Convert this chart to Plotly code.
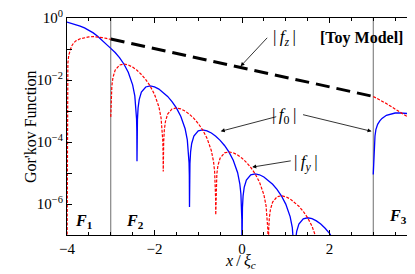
import plotly.graph_objects as go

# ---- data (values read in decades, log10 of |f|) ----
blue_f1_x = [-4.0, -3.9, -3.8, -3.7, -3.6, -3.5, -3.4, -3.3, -3.2, -3.1, -3.0]
blue_f1_log = [-0.13, -0.17, -0.21, -0.26, -0.32, -0.39, -0.48, -0.59, -0.71, -0.84, -0.98]

blue_f2_x = [-3.0, -2.9, -2.8, -2.7, -2.6, -2.5, -2.45, -2.425, -2.41, -2.404, -2.4, -2.396, -2.39, -2.375, -2.35,
             -2.3, -2.2, -2.1, -2.0, -1.9, -1.8, -1.7, -1.6, -1.5, -1.4, -1.3, -1.25, -1.225, -1.21, -1.204, -1.2,
             -1.196, -1.19, -1.175, -1.15, -1.1, -1.0, -0.9, -0.8, -0.7, -0.6, -0.5, -0.4, -0.3, -0.2, -0.1, -0.05,
             -0.025, -0.01, -0.004, 0.0, 0.004, 0.01, 0.025, 0.05, 0.1, 0.2, 0.3, 0.4, 0.5, 0.6, 0.7, 0.8, 0.9, 1.0,
             1.1, 1.15, 1.175, 1.19, 1.2, 1.21, 1.225, 1.25, 1.3, 1.4, 1.5, 1.6, 1.7, 1.8, 1.9, 2.0, 2.1, 2.2]
blue_f2_log = [-0.979, -1.112, -1.278, -1.484, -1.752, -2.157, -2.513, -2.842, -3.258, -3.663, -4.62, -3.672, -3.281,
               -2.901, -2.631, -2.393, -2.225, -2.193, -2.223, -2.293, -2.396, -2.529, -2.695, -2.901, -3.170, -3.574,
               -3.930, -4.259, -4.675, -5.080, -6.1, -5.090, -4.699, -4.318, -4.048, -3.810, -3.642, -3.610, -3.640,
               -3.710, -3.813, -3.947, -4.113, -4.319, -4.587, -4.991, -5.347, -5.677, -6.092, -6.497, -7.5, -6.507,
               -6.116, -5.736, -5.465, -5.227, -5.059, -5.027, -5.057, -5.128, -5.231, -5.364, -5.530, -5.736, -6.004,
               -6.408, -6.764, -7.094, -7.509, -9.0, -7.533, -7.153, -6.882, -6.644, -6.476, -6.444, -6.475, -6.545,
               -6.648, -6.781, -6.947, -7.153, -7.421]

blue_f3_x = [3.0, 3.005, 3.01, 3.02, 3.03, 3.04, 3.06, 3.08, 3.1, 3.15, 3.2, 3.3, 3.4, 3.5, 3.6, 3.7, 3.8, 3.9, 4.0]
blue_f3_log = [-5.05, -4.8, -4.6, -4.35, -4.05, -3.8, -3.6, -3.5, -3.43, -3.32, -3.24, -3.14, -3.09, -3.065, -3.06,
               -3.065, -3.08, -3.095, -3.11]

red_f1_x = [-4.0, -3.995, -3.98, -3.96, -3.93, -3.9, -3.85, -3.8, -3.7, -3.6, -3.5, -3.4, -3.3, -3.2, -3.1, -3.0]
red_f1_log = [-8.0, -1.9, -1.45, -1.2, -1.02, -0.92, -0.81, -0.74, -0.67, -0.63, -0.61, -0.60, -0.61, -0.63, -0.66,
              -0.69]

red_f2_x = [-3.0, -2.996, -2.99, -2.975, -2.95, -2.9, -2.8, -2.7, -2.6, -2.5, -2.4, -2.3, -2.2, -2.1, -2.0, -1.9,
            -1.85, -1.825, -1.81, -1.804, -1.8, -1.796, -1.79, -1.775, -1.75, -1.7, -1.6, -1.5, -1.4, -1.3, -1.2,
            -1.1, -1.0, -0.9, -0.8, -0.7, -0.65, -0.625, -0.61, -0.604, -0.6, -0.596, -0.59, -0.575, -0.55, -0.5,
            -0.4, -0.3, -0.2, -0.1, 0.0, 0.1, 0.2, 0.3, 0.4, 0.5, 0.55, 0.575, 0.59, 0.596, 0.6, 0.604, 0.61, 0.625,
            0.65, 0.7, 0.8, 0.9, 1.0, 1.1, 1.2, 1.3, 1.4, 1.5, 1.6, 1.7, 1.75]
red_f2_log = [-3.19, -2.964, -2.573, -2.193, -1.922, -1.684, -1.516, -1.484, -1.514, -1.585, -1.688, -1.821, -1.987,
              -2.193, -2.461, -2.865, -3.221, -3.551, -3.966, -4.371, -4.95, -4.381, -3.990, -3.610, -3.339, -3.101,
              -2.933, -2.902, -2.932, -3.002, -3.105, -3.238, -3.404, -3.610, -3.878, -4.282, -4.638, -4.968, -5.384,
              -5.789, -6.35, -5.798, -5.407, -5.027, -4.756, -4.519, -4.351, -4.319, -4.349, -4.419, -4.522, -4.655,
              -4.821, -5.027, -5.295, -5.700, -6.056, -6.385, -6.801, -7.206, -7.8, -7.215, -6.824, -6.444, -6.174,
              -5.936, -5.768, -5.736, -5.766, -5.836, -5.939, -6.072, -6.238, -6.445, -6.713, -7.117, -7.473]

red_f3_x = [3.0, 3.1, 3.2, 3.3, 3.4, 3.5, 3.6, 3.7, 3.8, 3.9, 4.0]
red_f3_log = [-2.53, -2.60, -2.68, -2.76, -2.85, -2.94, -3.04, -3.13, -3.21, -3.29, -3.37]

fz_x = [-3.0, -2.0, -1.0, 0.0, 1.0, 2.0, 3.0]
fz_log = [-0.68, -0.988, -1.296, -1.605, -1.913, -2.222, -2.53]

region_bounds = [-3.0, 3.0]
x_tickvals = [-4, -2, 0, 2, 4]
x_ticktext = ["\u22124", "\u22122", "0", "2", "4"]
y_tickvals = [1, 1e-1, 1e-2, 1e-3, 1e-4, 1e-5, 1e-6, 1e-7]
y_ticktext = ["10<sup>0</sup>", "", "10<sup>\u22122</sup>", "", "10<sup>\u22124</sup>", "",
              "10<sup>\u22126</sup>", ""]


def lin(v):
    return [10 ** a for a in v]


FONT = "Liberation Serif, Times New Roman, serif"
BLUE = "#0000ff"
RED = "#ff0000"
TS = "\u2009"

fig = go.Figure()
for xs, ys in [(blue_f1_x, blue_f1_log), (blue_f2_x, blue_f2_log), (blue_f3_x, blue_f3_log)]:
    fig.add_trace(go.Scatter(x=xs, y=lin(ys), mode="lines", line=dict(color=BLUE, width=1.3),
                             showlegend=False, hoverinfo="skip"))
for xs, ys in [(red_f1_x, red_f1_log), (red_f2_x, red_f2_log), (red_f3_x, red_f3_log)]:
    fig.add_trace(go.Scatter(x=xs, y=lin(ys), mode="lines",
                             line=dict(color=RED, width=1.2, dash="3px,1.5px"),
                             showlegend=False, hoverinfo="skip"))
fig.add_trace(go.Scatter(x=fz_x, y=lin(fz_log), mode="lines",
                         line=dict(color="black", width=3, dash="14px,7px"),
                         showlegend=False, hoverinfo="skip"))

for xb in region_bounds:
    fig.add_shape(type="line", x0=xb, x1=xb, y0=0, y1=1, xref="x", yref="paper",
                  line=dict(color="#6e6e6e", width=1), layer="below")

tf = dict(family=FONT, size=17, color="black")
ff = dict(family=FONT, size=16, color="black")
anns = [
    dict(x=0.961, y=-0.645, text="|" + TS + "<i>f<sub>z</sub></i>" + TS + "|", showarrow=False, font=tf),
    dict(x=2.74, y=-0.645, text="<b>[Toy Model]</b>", showarrow=False, font=dict(family=FONT, size=16, color="black")),
    dict(x=0.961, y=-3.16, text="|" + TS + "<i>f</i><sub>0</sub>" + TS + "|", showarrow=False, font=tf),
    dict(x=1.461, y=-4.68, text="|" + TS + "<i>f<sub>y</sub></i>" + TS + "|", showarrow=False, font=tf),
    dict(x=-3.607, y=-6.55, text="<b><i>F</i></b><sub><b>1</b></sub>", showarrow=False, font=ff),
    dict(x=-2.448, y=-6.55, text="<b><i>F</i></b><sub><b>2</b></sub>", showarrow=False, font=ff),
    dict(x=3.575, y=-6.39, text="<b><i>F</i></b><sub><b>3</b></sub>", showarrow=False, font=ff),
]
arrow = dict(showarrow=True, text="", arrowhead=2, arrowsize=1, arrowwidth=0.8, arrowcolor="black",
             axref="pixel", ayref="pixel")
anns += [
    dict(x=-0.032, y=-1.558, ax=28, ay=-30, **arrow),
    dict(x=-0.486, y=-3.655, ax=57, ay=-15, **arrow),
    dict(x=2.961, y=-3.655, ax=-70, ay=-17, **arrow),
    dict(x=0.234, y=-4.81, ax=40, ay=-6.5, **arrow),
]
for a in anns:
    a.setdefault("xref", "x")
    a.setdefault("yref", "y")
    fig.add_annotation(**a)

fig.add_annotation(xref="paper", yref="paper", x=0.496, y=-0.176, showarrow=False,
                   text="<i>x</i>" + TS + "/" + TS + "<i>\u03be</i><sub><i>c</i></sub>",
                   font=dict(family=FONT, size=16, color="black"))
fig.add_annotation(xref="paper", yref="paper", x=-0.134, y=0.5, showarrow=False, textangle=-90,
                   text="Gor'kov Function", font=dict(family=FONT, size=16, color="black"))

fig.update_layout(
    template="none",
    width=415, height=274,
    margin=dict(l=59, r=6, t=10, b=47, autoexpand=False),
    plot_bgcolor="white", paper_bgcolor="white",
    font=dict(family=FONT, size=15, color="black"),
    showlegend=False,
)
fig.update_xaxes(range=[-4, 4], automargin=False, showgrid=False, zeroline=False, showline=True,
                 linecolor="black", linewidth=1, ticklabeloverflow="allow",
                 mirror="allticks", ticks="inside", ticklen=5, tickcolor="black", tickwidth=0.8,
                 tickvals=x_tickvals, ticktext=x_ticktext, tickfont=dict(family=FONT, size=15),
                 minor=dict(dtick=0.5, tick0=0, ticks="inside", ticklen=3, tickcolor="black", tickwidth=0.8))
fig.update_yaxes(type="log", range=[-7, 0], automargin=False, showgrid=False, zeroline=False, showline=True,
                 linecolor="black", linewidth=1, mirror="allticks", ticks="inside", ticklen=5,
                 tickcolor="black", tickwidth=0.8, ticklabeloverflow="allow",
                 tickvals=y_tickvals, ticktext=y_ticktext, tickfont=dict(family=FONT, size=15))

fig.write_html("out.html")
